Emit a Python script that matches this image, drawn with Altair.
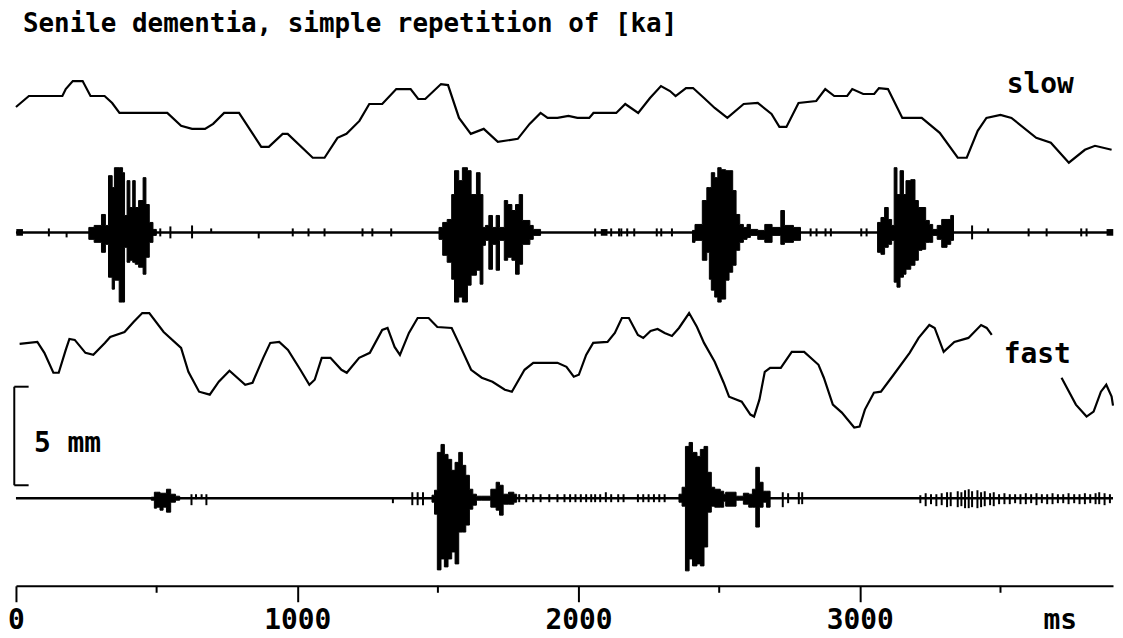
import altair as alt
import pandas as pd

TITLE = "Senile dementia, simple repetition of [ka]"
X_TICKS = [0, 1000, 2000, 3000]
X_MINOR = [500, 1500, 2500, 3500]
X_MAX = 3900
UNIT_LABEL = "ms"
SCALE_BAR_LABEL = "5 mm"
SCALE_BAR_UNITS = 99          # 5 mm in display units
ROW_LABELS = ["slow", "fast"]

# movement traces: (time ms, displacement in display units)
SLOW_TRACE = [(0,14),(46,25),(165,25),(177,32),(202,40),(237,40),(265,25),(315,25),(342,18),(368,8),
    (538,8),(587,-5),(626,-8),(672,-8),(701,-3),(740,8),(793,8),(872,-26),(899,-26),(948,-13),
    (966,-13),(1055,-37),(1097,-37),(1143,-17),(1175,-13),(1221,0),(1256,17),(1302,17),(1352,32),(1403,32),
    (1430,22),(1455,22),(1511,37),(1536,36),(1575,3),(1617,-13),(1663,-8),(1713,-21),(1784,-18),(1826,-3),
    (1865,8),(1890,3),(1925,3),(1964,5),(1996,3),(2038,3),(2053,8),(2134,8),(2166,17),(2212,8),
    (2254,23),(2293,35),(2325,30),(2345,25),(2382,33),(2407,33),(2446,23),(2484,13),(2529,3),(2587,17),
    (2637,18),(2686,7),(2714,-6),(2739,-6),(2782,18),(2845,20),(2877,32),(2909,25),(2955,25),(2973,32),
    (3012,27),(3051,27),(3068,33),(3100,32),(3151,3),(3220,3),(3284,-12),(3348,-37),(3380,-37),(3419,-10),
    (3450,3),(3500,6),(3539,3),(3627,-17),(3679,-22),(3743,-42),(3800,-29),(3836,-25),(3895,-29)]

FAST_TRACE_A = [(13,26),(76,28),(101,17),(133,-3),(152,-3),(177,20),(190,31),(209,30),(247,17),(275,15),
    (316,27),(335,33),(386,38),(418,48),(449,57),(474,57),(525,38),(587,22),(613,-2),(651,-22),
    (689,-25),(721,-12),(759,-1),(815,-15),(841,-13),(879,12),(904,27),(936,28),(967,20),(1011,0),
    (1043,-15),(1062,-10),(1087,12),(1118,12),(1157,0),(1176,-3),(1220,12),(1258,17),(1302,40),(1321,42),
    (1346,23),(1365,15),(1397,37),(1428,52),(1467,52),(1498,43),(1549,42),(1574,27),(1618,0),(1656,-8),
    (1694,-12),(1738,-20),(1763,-22),(1808,0),(1839,7),(1877,7),(1925,7),(1957,3),(1983,-7),(2001,-5),
    (2027,15),(2052,27),(2103,28),(2129,37),(2154,52),(2179,52),(2211,35),(2230,32),(2256,39),(2281,41),
    (2306,37),(2332,34),(2357,42),(2393,57),(2421,43),(2446,27),(2484,8),(2516,-13),(2535,-27),(2580,-32),
    (2611,-45),(2624,-47),(2643,-30),(2662,-2),(2681,2),(2719,2),(2758,18),(2802,18),(2853,5),(2872,-8),
    (2904,-35),(2936,-43),(2980,-58),(2999,-57),(3018,-40),(3050,-23),(3075,-22),(3120,-5),(3177,17),(3209,32),
    (3247,45),(3266,42),(3298,18),(3336,28),(3386,32),(3431,45),(3451,42),(3469,35)]
FAST_TRACE_B = [(3717,-8),(3768,-35),(3806,-47),(3831,-42),(3857,-22),(3876,-15),(3895,-27),(3900,-36)]

# audio envelopes: (time ms, upper amplitude, lower amplitude)
SLOW_KA_1 = [(259,5,7),(278,7,10),(304,18,20),(318,7,12),(329,57,45),(342,45,57),(350,65,48),(367,65,70),
    (379,60,70),(386,17,15),(395,52,30),(405,25,28),(415,52,30),(424,25,32),(436,32,35),(452,55,42),
    (462,28,25),(474,10,10),(487,3,3),(499,0,0)]
SLOW_KA_2 = [(1504,5,7),(1517,10,23),(1533,13,30),(1549,38,47),(1559,62,70),(1574,52,65),(1587,65,70),
    (1605,62,53),(1618,38,43),(1637,60,38),(1650,38,52),(1660,5,13),(1669,7,8),(1681,17,37),(1694,5,12),
    (1707,17,38),(1719,5,8),(1736,32,28),(1748,28,25),(1763,22,28),(1776,28,42),(1789,38,32),(1801,12,12),
    (1827,7,7),(1839,3,3),(1865,0,0)]
SLOW_KA_3 = [(2405,2,10),(2414,8,8),(2440,32,28),(2456,45,20),(2465,45,47),(2472,60,58),(2484,55,65),
    (2495,65,70),(2507,63,67),(2523,62,48),(2535,62,40),(2548,42,33),(2560,18,18),(2573,8,10),(2586,5,7),
    (2599,8,5),(2611,3,3),(2637,2,7),(2662,8,10),(2688,5,3),(2719,22,12),(2732,7,10),(2764,5,8),(2789,0,0)]
SLOW_KA_4 = [(3063,10,20),(3075,15,22),(3088,25,15),(3101,13,12),(3113,7,8),(3122,65,50),(3132,38,55),
    (3143,62,45),(3155,38,42),(3164,52,37),(3181,53,33),(3196,32,28),(3208,25,18),(3221,25,17),(3234,12,10),
    (3247,8,10),(3259,3,3),(3275,7,7),(3291,13,15),(3310,13,12),(3323,17,8),(3333,0,0)]

FAST_KA_0 = [(481,1,2),(492,6,10),(500,6,9),(512,5,12),(523,5,9),(535,9,14),(550,4,4),(567,2,2),(582,0,0)]
FAST_KA_1 = [(1479,3,4),(1488,8,16),(1498,46,72),(1511,54,61),(1523,44,69),(1536,39,61),(1549,28,54),
    (1561,36,66),(1574,46,34),(1587,33,34),(1599,23,27),(1612,9,11),(1624,4,7),(1637,2,2),(1656,2,2),
    (1688,9,9),(1707,16,12),(1719,13,17),(1732,4,6),(1751,6,6),(1770,4,4),(1780,0,0)]
FAST_KA_2 = [(2357,4,4),(2368,11,8),(2380,52,73),(2393,56,61),(2405,46,68),(2421,42,66),(2433,49,68),
    (2446,52,49),(2459,26,14),(2472,11,8),(2484,9,9),(2504,7,9),(2516,4,3),(2523,6,8),(2560,2,2),
    (2573,2,2),(2586,5,6),(2605,4,9),(2618,9,9),(2630,31,29),(2643,16,9),(2656,7,4),(2668,7,9),(2681,0,0)]

SLOW_BLIPS = [(117,4,4),(180,0,5),(513,4,4),(549,6,6),(626,7,6),(694,4,0),(863,0,6),(984,4,4),(1040,4,4),
    (1097,4,4),(1232,4,4),(1267,4,4),(1334,4,4),(2059,4,4),(2116,4,4),(2144,4,4),(2152,4,4),(2173,4,4),
    (2198,4,4),(2278,4,4),(2294,4,4),(2332,4,4),(2825,4,4),(2846,4,4),(2878,4,4),(2897,4,4),(3005,4,4),
    (3024,4,4),(3399,7,7),(3456,4,0),(3600,4,4),(3664,4,4),(3787,4,4),(3806,4,4)]
SLOW_DOTS = [13, 2091, 3889]

FAST_BLIPS = [(624,4,7),(640,4,1),(660,4,1),(677,4,7),(1340,0,5),(1409,6,7),(1428,6,7),(1447,6,7),
    (1789,4,4),(1814,4,4),(1839,4,4),(1865,4,4),(1896,4,4),(1925,4,4),(1950,4,4),(1970,4,4),(1989,4,4),
    (2008,4,4),(2027,4,4),(2045,4,4),(2059,4,4),(2077,4,4),(2097,6,4),(2116,4,4),(2141,4,4),(2160,4,4),
    (2211,4,4),(2230,4,4),(2249,4,4),(2268,4,4),(2287,4,4),(2306,4,4),(2726,6,9),(2745,5,5),(2783,6,6),
    (2795,6,6)]
FAST_NOISE = [(3215,3,5),(3234,5,8),(3253,4,6),(3272,4,8),(3291,5,7),(3310,6,9),(3323,6,8),(3348,7,9),
    (3361,6,8),(3374,8,10),(3387,9,10),(3399,7,9),(3418,8,10),(3431,6,9),(3444,7,8),(3463,5,7),(3476,6,8),
    (3495,4,6),(3514,5,6),(3533,4,6),(3552,4,5),(3571,4,6),(3590,5,6),(3609,4,5),(3628,5,7),(3647,4,5),
    (3666,4,6),(3685,5,6),(3704,4,5),(3723,4,5),(3742,5,6),(3762,4,5),(3781,4,6),(3800,5,6),(3819,4,5),
    (3838,5,6),(3851,6,6),(3870,5,7),(3889,4,5)]

# ---- layout (display units, measured from the time axis upward) ----
W, H = 1102, 548
SLOW_TRACE_BASE = 467
SLOW_AUDIO_BASE = 355
FAST_TRACE_BASE = 217
FAST_AUDIO_BASE = 88
SCALE_BAR_BOTTOM = 101
SCALE_BAR_X = -6
SCALE_BAR_SERIF = 45
FONT = "DejaVu Sans Mono"

traces = pd.DataFrame(
    [{"ms": t, "y": SLOW_TRACE_BASE + v, "seg": "slow"} for t, v in SLOW_TRACE]
    + [{"ms": t, "y": FAST_TRACE_BASE + v, "seg": "fastA"} for t, v in FAST_TRACE_A]
    + [{"ms": t, "y": FAST_TRACE_BASE + v, "seg": "fastB"} for t, v in FAST_TRACE_B])

rows = []
for name, burst in [("s1", SLOW_KA_1), ("s2", SLOW_KA_2), ("s3", SLOW_KA_3), ("s4", SLOW_KA_4)]:
    rows += [{"ms": t, "top": SLOW_AUDIO_BASE + u, "bot": SLOW_AUDIO_BASE - d, "k": name} for t, u, d in burst]
for name, burst in [("f0", FAST_KA_0), ("f1", FAST_KA_1), ("f2", FAST_KA_2)]:
    rows += [{"ms": t, "top": FAST_AUDIO_BASE + u, "bot": FAST_AUDIO_BASE - d, "k": name} for t, u, d in burst]
bursts = pd.DataFrame(rows)

blips = pd.DataFrame(
    [{"ms": t, "top": SLOW_AUDIO_BASE + u, "bot": SLOW_AUDIO_BASE - d} for t, u, d in SLOW_BLIPS]
    + [{"ms": t, "top": FAST_AUDIO_BASE + u, "bot": FAST_AUDIO_BASE - d} for t, u, d in FAST_BLIPS + FAST_NOISE])
dots = pd.DataFrame({"ms": SLOW_DOTS, "y": [SLOW_AUDIO_BASE] * len(SLOW_DOTS)})
baselines = pd.DataFrame({"x0": [0, 0], "x1": [X_MAX, X_MAX], "y": [SLOW_AUDIO_BASE, FAST_AUDIO_BASE]})
minor = pd.DataFrame({"ms": X_MINOR})
scalebar_v = pd.DataFrame({"x": [SCALE_BAR_X], "y0": [SCALE_BAR_BOTTOM], "y1": [SCALE_BAR_BOTTOM + SCALE_BAR_UNITS]})
scalebar_h = pd.DataFrame({"x0": [SCALE_BAR_X] * 2, "x1": [SCALE_BAR_SERIF] * 2,
                           "y": [SCALE_BAR_BOTTOM, SCALE_BAR_BOTTOM + SCALE_BAR_UNITS]})

XS = alt.Scale(domain=[0, X_MAX], nice=False, zero=False)
YS = alt.Scale(domain=[0, H], nice=False, zero=False)
AX = alt.Axis(values=X_TICKS, format="d", title="", grid=False, tickSize=16, tickWidth=2,
              tickColor="black", domainColor="black", domainWidth=2, labelFont=FONT,
              labelFontSize=28, labelFontWeight="bold", labelColor="black", labelPadding=5,
              labelFlush=False)


def X(f):
    return alt.X(f, type="quantitative", scale=XS, axis=AX)


def Y(f):
    return alt.Y(f, type="quantitative", scale=YS, axis=None)


trace_layer = alt.Chart(traces).mark_line(color="black", strokeWidth=2.2).encode(
    x=X("ms"), y=Y("y"), detail="seg:N")
base_layer = alt.Chart(baselines).mark_rule(color="black", strokeWidth=2.5).encode(
    x=X("x0"), x2="x1", y=Y("y"))
burst_layer = alt.Chart(bursts).mark_area(color="black", interpolate="step-after", stroke="black",
                                          strokeWidth=1).encode(
    x=X("ms"), y=Y("top"), y2="bot", detail="k:N")
blip_layer = alt.Chart(blips).mark_rule(color="black", strokeWidth=2).encode(
    x=X("ms"), y=Y("top"), y2="bot")
dot_layer = alt.Chart(dots).mark_point(shape="square", filled=True, color="black", size=45, opacity=1).encode(
    x=X("ms"), y=Y("y"))
minor_layer = alt.Chart(minor).mark_rule(color="black", strokeWidth=2).encode(
    x=X("ms"), y=alt.value(H), y2=alt.value(H + 7))
sb_v = alt.Chart(scalebar_v).mark_rule(color="black", strokeWidth=2).encode(x=X("x"), y=Y("y0"), y2="y1")
sb_h = alt.Chart(scalebar_h).mark_rule(color="black", strokeWidth=2).encode(x=X("x0"), x2="x1", y=Y("y"))


def label(text, x, y, size, align="center"):
    return alt.Chart(pd.DataFrame({"t": [text]})).mark_text(
        font=FONT, fontSize=size, fontWeight="bold", color="black", align=align,
        baseline="alphabetic").encode(text="t:N", x=alt.value(x), y=alt.value(y))


title_layer = label(TITLE, 7, -8, 26, "left")
slow_lbl = label(ROW_LABELS[0], 1029, 53, 28)
fast_lbl = label(ROW_LABELS[1], 1026, 324, 28)
mm_lbl = label(SCALE_BAR_LABEL, 18, 414, 28, "left")
ms_lbl = label(UNIT_LABEL, 1049, 591, 28)

chart = alt.layer(
    base_layer, burst_layer, blip_layer, dot_layer, trace_layer, minor_layer, sb_v, sb_h,
    title_layer, slow_lbl, fast_lbl, mm_lbl, ms_lbl
).properties(
    width=W, height=H,
    padding={"left": 8, "top": 31, "right": 2, "bottom": 48},
    autosize=alt.AutoSizeParams(type="none"),
    background="white",
).configure_view(stroke=None)

chart.save("out.html", embed_options={"renderer": "svg", "actions": False})
